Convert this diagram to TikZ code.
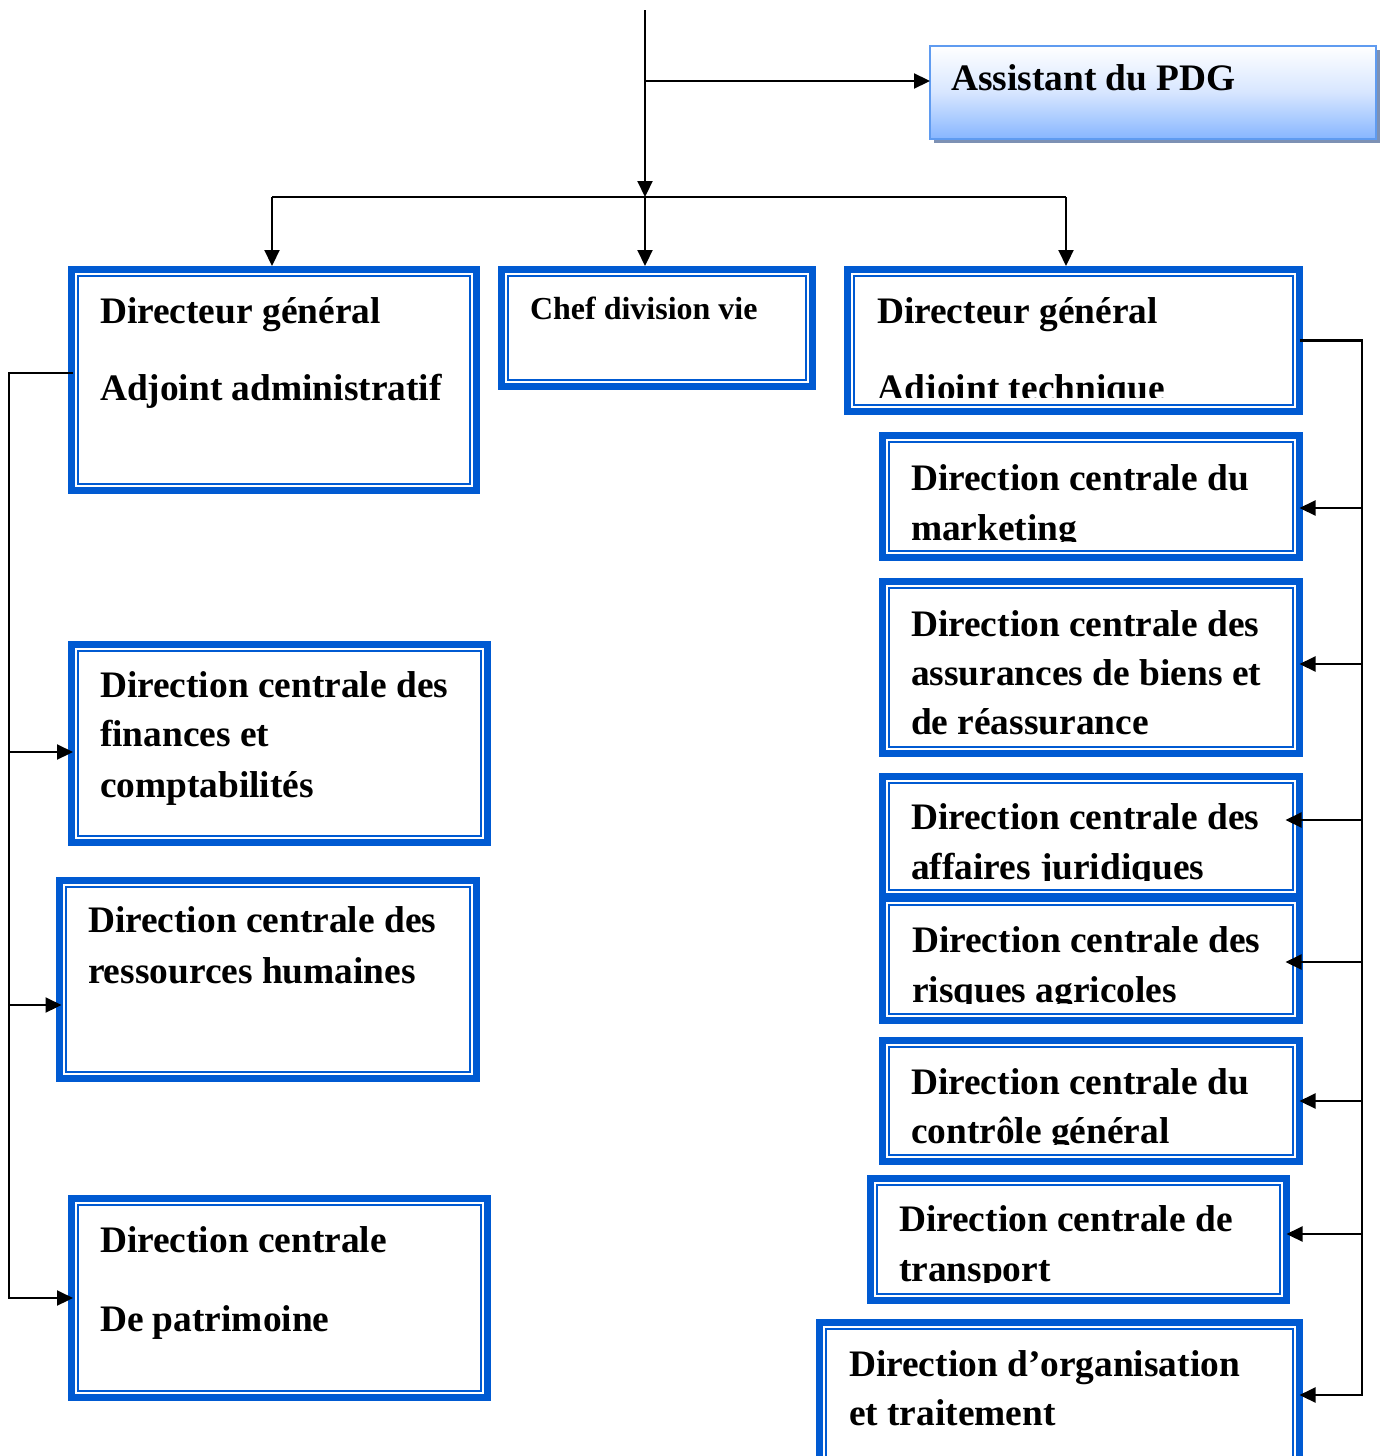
\documentclass[tikz,border=0pt]{standalone}
\usepackage{fontspec}
\setmainfont{Liberation Serif}
\usetikzlibrary{calc,arrows.meta,shadows}
\definecolor{orgblue}{RGB}{0,90,210}
\definecolor{asstborder}{RGB}{95,155,240}
\definecolor{asstmid}{RGB}{215,230,255}
\definecolor{asstbottom}{RGB}{135,182,255}
\definecolor{asstshadow}{RGB}{125,145,180}
\newcommand{\orgbox}[5]{%
  \pgfmathsetmacro{\obw}{(#4-#2-7)*0.5}%
  \pgfmathsetmacro{\obh}{(#5-#3-7)*0.5}%
  \node[frame, minimum width=\obw pt, minimum height=\obh pt] (#1) at ({(#2+#4)/2},{(#3+#5)/2}) {};%
  \draw[innerline] ($(#1.south west)+(3.25pt,3.25pt)$) rectangle ($(#1.north east)+(-3.25pt,-3.25pt)$);%
}
\begin{document}
\begin{tikzpicture}[x=0.5pt,y=-0.5pt,
  frame/.style={draw=orgblue, line width=3.5pt, inner sep=0pt, outer sep=0pt, fill=white},
  innerline/.style={draw=orgblue, line width=1pt},
  txt/.style={font=\bfseries\fontsize{18.7pt}{22pt}\selectfont, inner sep=0pt, outer sep=0pt, anchor=base west},
  smalltxt/.style={txt, font=\bfseries\fontsize{16pt}{19pt}\selectfont},
  asstbox/.style={draw=asstborder, line width=1pt, inner sep=0pt, outer sep=0pt,
    top color=white, bottom color=asstbottom, middle color=asstmid,
    drop shadow={shadow xshift=2pt, shadow yshift=-2pt, fill=asstshadow, opacity=1}},
  conn/.style={line width=1.1pt, draw=black},
  arr/.style={conn, -{Triangle[length=8pt,width=7.5pt]}},
]
\useasboundingbox (0,0) rectangle (1381,1456);

% ---- Assistant
\node[asstbox, minimum width=223pt, minimum height=46.5pt] (asst) at (1153,92.5) {};
\node[txt] (asst-t) at (951,90) {Assistant du PDG};

% ---- boxes
\orgbox{dga}{68}{266}{480}{494}
\orgbox{chef}{498}{266}{816}{390}
\orgbox{dgt}{844}{266}{1303}{415}
\orgbox{mkt}{879}{432}{1303}{561}
\orgbox{ass}{879}{578}{1303}{757}
\orgbox{jur}{879}{773}{1303}{900}
\orgbox{agr}{879}{895}{1303}{1024}
\orgbox{ctl}{879}{1037}{1303}{1165}
\orgbox{trp}{867}{1175}{1290}{1304}
\orgbox{org}{816}{1319}{1303}{1475}
\orgbox{fin}{68}{641}{491}{846}
\orgbox{rh}{56}{877}{480}{1082}
\orgbox{pat}{68}{1195}{491}{1401}

% ---- texts
\node[txt] (dga-1) at (100,323) {Directeur général};
\node[txt] (dga-2) at (100,400) {Adjoint administratif};
\node[smalltxt] (chef-1) at (530,319) {Chef division vie};
\begin{scope}
  \clip (844,266) rectangle (1303,397);
  \node[txt] (dgt-1) at (877,323) {Directeur général};
  \node[txt] (dgt-2) at (877,400) {Adjoint technique};
\end{scope}
\begin{scope}
  \clip (879,432) rectangle (1303,541);
  \node[txt] (mkt-1) at (911,490) {Direction centrale du};
  \node[txt] (mkt-2) at (911,540) {marketing};
\end{scope}
\node[txt] (ass-1) at (911,636) {Direction centrale des};
\node[txt] (ass-2) at (911,685) {assurances de biens et};
\node[txt] (ass-3) at (911,734) {de réassurance};
\begin{scope}
  \clip (879,773) rectangle (1303,880);
  \node[txt] (jur-1) at (911,829) {Direction centrale des};
  \node[txt] (jur-2) at (911,879) {affaires juridiques};
\end{scope}
\begin{scope}
  \clip (879,895) rectangle (1303,1003);
  \node[txt] (agr-1) at (912,952) {Direction centrale des};
  \node[txt] (agr-2) at (912,1002) {risques agricoles};
\end{scope}
\begin{scope}
  \clip (879,1037) rectangle (1303,1144);
  \node[txt] (ctl-1) at (911,1094) {Direction centrale du};
  \node[txt] (ctl-2) at (911,1143) {contrôle général};
\end{scope}
\begin{scope}
  \clip (867,1175) rectangle (1290,1282);
  \node[txt] (trp-1) at (899,1231) {Direction centrale de};
  \node[txt] (trp-2) at (899,1281) {transport};
\end{scope}
\node[txt] (org-1) at (849,1376) {Direction d’organisation};
\node[txt] (org-2) at (849,1425) {et traitement};
\node[txt] (fin-1) at (100,697) {Direction centrale des};
\node[txt] (fin-2) at (100,746) {finances et};
\node[txt] (fin-3) at (100,797) {comptabilités};
\node[txt] (rh-1) at (88,932) {Direction centrale des};
\node[txt] (rh-2) at (88,983) {ressources humaines};
\node[txt] (pat-1) at (100,1252) {Direction centrale};
\node[txt] (pat-2) at (100,1331) {De patrimoine};

% ---- connectors (top)
\coordinate (top) at (645,10);
\coordinate (hub) at (645,197);
\coordinate (asst-in) at ([yshift=5.75pt]asst.west);
\coordinate (dga-in) at ([xshift=-1pt,yshift=1.75pt]dga.north);
\coordinate (dgt-in) at ([xshift=-3.75pt,yshift=1.75pt]dgt.north);
\coordinate (chef-in) at ([yshift=1.75pt]chef.north);
\draw[arr] (top) -- (hub);
\draw[arr] (top |- asst-in) -- (asst-in);
\draw[conn] (dga-in |- hub) -- (dgt-in |- hub);
\draw[arr] (dga-in |- hub) -- (dga-in);
\draw[arr] (hub) -- (hub |- chef-in);
\draw[arr] (dgt-in |- hub) -- (dgt-in);

% ---- left bus
\coordinate (lx) at (9,0);
\coordinate (dga-out) at ([xshift=0.75pt,yshift=3.5pt]dga.west);
\coordinate (fin-in) at ([xshift=0.75pt,yshift=-4.25pt]fin.west);
\coordinate (rh-in) at ([xshift=1pt,yshift=-12.75pt]rh.west);
\coordinate (pat-in) at ([xshift=0.75pt]pat.west);
\draw[arr] (dga-out) -| (lx |- pat-in) -- (pat-in);
\draw[arr] (lx |- fin-in) -- (fin-in);
\draw[arr] (lx |- rh-in) -- (rh-in);

% ---- right bus
\coordinate (rx) at (1362,0);
\coordinate (org-in) at ([yshift=1pt]org.east);
\coordinate (mkt-in) at ([yshift=-5.75pt]mkt.east);
\coordinate (ass-in) at ([yshift=1.75pt]ass.east);
\coordinate (jur-in) at ([xshift=-7pt,yshift=8.25pt]jur.east);
\coordinate (agr-in) at ([xshift=-7pt,yshift=-1.25pt]agr.east);
\coordinate (ctl-in) at (ctl.east);
\coordinate (trp-in) at ([yshift=2.75pt]trp.east);
\draw[arr] (dgt.east) -| (rx |- org-in) -- (org-in);
\foreach \t in {mkt-in,ass-in,jur-in,agr-in,ctl-in,trp-in}
  \draw[arr] (rx |- \t) -- (\t);
\end{tikzpicture}
\end{document}
